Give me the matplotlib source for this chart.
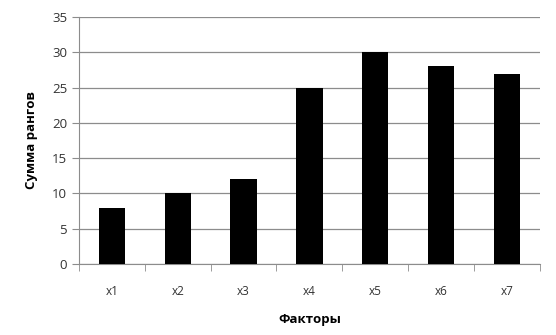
import numpy as np
import matplotlib
matplotlib.use("Agg")
import matplotlib.pyplot as plt

# Данные графика
factors = ["x1", "x2", "x3", "x4", "x5", "x6", "x7"]
rank_sums = [8, 10, 12, 25, 30, 28, 27]
y_ticks = [0, 5, 10, 15, 20, 25, 30, 35]

plt.rcParams["font.family"] = ["Open Sans", "DejaVu Sans"]

fig = plt.figure(figsize=(5.56, 3.35), dpi=100)
ax = fig.add_axes([0.142, 0.212, 0.829, 0.737])

pos = np.arange(len(factors))
ax.bar(pos, rank_sums, width=0.4, color="black", zorder=3)

ax.set_xlim(-0.5, len(factors) - 0.5)
ax.set_ylim(0, 35)
ax.set_yticks(y_ticks)
ax.yaxis.grid(True, color="#8c8c8c", linewidth=0.9, zorder=0)

# метки категорий по центру, засечки между категориями
ax.set_xticks(pos)
ax.set_xticklabels(factors, fontsize=8.5, color="#333333")
ax.set_xticks(np.arange(-0.5, len(factors)), minor=True)
ax.tick_params(axis="x", which="major", length=0, pad=15)
ax.tick_params(axis="x", which="minor", length=5, color="#8c8c8c", direction="out")
ax.tick_params(axis="y", length=5, color="#8c8c8c", labelsize=9.5, labelcolor="#333333")

for side in ["top", "right"]:
    ax.spines[side].set_visible(False)
ax.spines["left"].set_color("#8c8c8c")
ax.spines["bottom"].set_color("#8c8c8c")

ax.set_ylabel("Сумма рангов", fontsize=9.5, fontweight="bold", labelpad=10)
ax.set_xlabel("Факторы", fontsize=9.5, fontweight="bold", labelpad=11)

fig.savefig("out.png", dpi=100)
